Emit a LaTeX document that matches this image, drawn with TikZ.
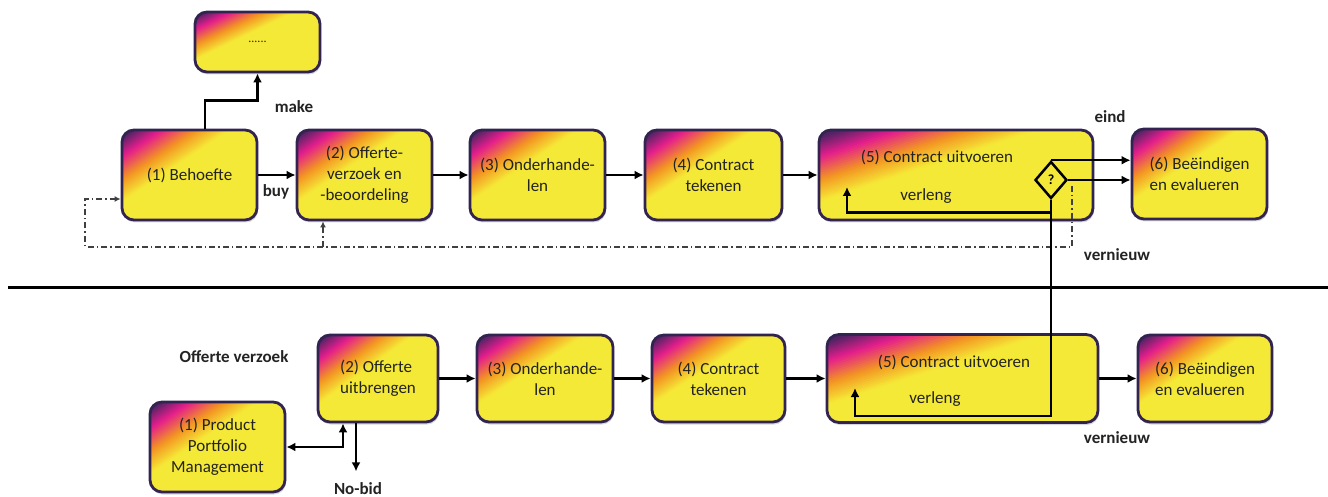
\documentclass[tikz,border=0pt]{standalone}
\usepackage{fontspec}
\setmainfont{Carlito}
\usepackage{tikz}
\usetikzlibrary{arrows.meta,shapes.geometric,shadows}

\definecolor{stappaars}{RGB}{80,35,100}
\definecolor{stapmagenta}{RGB}{228,30,140}
\definecolor{staporanje}{RGB}{243,150,35}
\definecolor{stapgeel}{RGB}{245,233,55}
\definecolor{staprand}{RGB}{50,36,80}
\definecolor{tekst}{RGB}{35,35,35}

% diagonal colour fill, corner to corner of the box, in bands
\newcommand\stapband[2]{%
  \fill[#2, sharp corners]
    ([xshift={(2*#1+2)*\stapw}, yshift={2*\staph}]vnw) --
    ([xshift={6*\stapw}, yshift={2*\staph}]vnw) --
    ([xshift={6*\stapw}, yshift={-6*\staph}]vnw) --
    ([xshift={-2*\stapw}, yshift={-6*\staph}]vnw) --
    ([xshift={-2*\stapw}, yshift={-(2*#1+2)*\staph}]vnw) -- cycle;}
\newcommand\stapvulling{%
  \pgfpointdiff{\pgfpointanchor{path picture bounding box}{south west}}{\pgfpointanchor{path picture bounding box}{north east}}%
  \pgfgetlastxy{\stapw}{\staph}%
  \coordinate (vnw) at (path picture bounding box.north west);
  \fill[stappaars, sharp corners] (path picture bounding box.south west) rectangle (path picture bounding box.north east);
  \foreach \fa/\fb/\ca/\cb in {0.04/0.15/stappaars/stapmagenta, 0.15/0.28/stapmagenta/staporanje, 0.28/0.40/staporanje/stapgeel}
    \foreach \k in {1,...,10} {
      \pgfmathsetmacro\f{\fa+(\fb-\fa)*(\k-1)/10}
      \pgfmathtruncatemacro\p{105-10*\k}
      \stapband{\f}{\ca!\p!\cb}
    }
  \stapband{0.40}{stapgeel}}

\tikzset{
  proc/.style={rectangle, rounded corners=12pt, draw=staprand, line width=2.8pt,
    fill=stapgeel, path picture={\stapvulling},
    drop shadow={shadow xshift=1pt, shadow yshift=-2.5pt, opacity=.3},
    text=tekst, font=\fontsize{17}{21}\selectfont, align=center, inner sep=2pt,
    minimum width=135pt, minimum height=90pt},
  txt/.style={text=tekst, font=\fontsize{17}{21}\selectfont},
  lbl/.style={text=tekst, font=\bfseries\fontsize{17}{21}\selectfont},
  flow/.style={line width=2.5pt, ->},
  terug/.style={line width=1.6pt, draw=black!75, dash pattern=on 6pt off 3pt on 1.5pt off 3pt, -{Latex[length=6pt,width=6pt]}}
}

\begin{document}
\begin{tikzpicture}[x=1pt, y=-1pt, >={Latex[length=9pt,width=9pt]}]
\useasboundingbox (0,0) rectangle (1328,497);

\node[proc, minimum width=125pt, minimum height=60pt] (tmeer) at (257.5,42) {\fontsize{12}{14}\selectfont ......};
\node[proc] (t1) at (189.5,175) {(1) Behoefte};
\node[proc] (t2) at (364.5,175) {(2) Offerte-\\verzoek en\\-beoordeling};
\node[proc] (t3) at (537.5,175) {(3) Onderhande-\\len};
\node[proc, minimum width=137pt] (t4) at (713.5,175) {(4) Contract\\tekenen};
\node[proc, minimum width=274pt] (t5) at (956,175) {};
\node[proc, align=left] (t6) at (1199.5,174) {(6) Beëindigen\\en evalueren};
\node[txt] (t5tekst) at (937,157) {(5) Contract uitvoeren};

\node[diamond, draw, line width=2.5pt, fill=stapgeel, minimum width=32pt, minimum height=37pt, inner sep=0pt,
  font=\bfseries\fontsize{14}{14}\selectfont] (keuze) at (1051,180) {?};

\draw[flow] ([xshift=15.5pt]t1.north) -- ++(0,-28) -| (tmeer.south);
\path[flow]
(t1) edge (t2)
(t2) edge (t3)
(t3) edge (t4)
(t4) edge (t5)
;
\draw[flow] (keuze.north) -- (keuze.north -| t6.west);
\draw[flow] (keuze.east) -- (keuze.east -| t6.west);
\coordinate (tverl) at (847,187);
\draw[flow] (keuze.south) -- ++(0,13) -| (tverl);

\coordinate (vn) at (1072,186);
\coordinate (hk) at (85,247);
\coordinate (t2in) at ([xshift=-41.5pt]t2.south);
\draw[terug] (vn) |- (hk) |- ([yshift=-24pt]t1.west);
\draw[terug] (t2in |- hk) -- (t2in);

\node[lbl] (make) at (294,107) {make};
\node[lbl] (buy) at (276,192) {buy};
\node[lbl] (eind) at (1110,117) {eind};
\node[txt] (tverltxt) at (926,196) {verleng};
\node[lbl] (tvernieuw) at (1117,255) {vernieuw};

\draw[line width=3pt] (8,287) -- (1328,287);

\node[proc, minimum width=120pt, minimum height=87pt, align=left] (b2) at (378,378.5) {(2) Offerte\\uitbrengen};
\node[proc, minimum width=136pt, minimum height=87pt] (b3) at (545,378.5) {(3) Onderhande-\\len};
\node[proc, minimum width=133pt, minimum height=87pt] (b4) at (718.5,378.5) {(4) Contract\\tekenen};
\node[proc, minimum width=271pt, minimum height=88pt] (b5) at (962.5,378.5) {};
\node[proc, minimum width=134pt, minimum height=87pt, align=left] (b6) at (1205,378.5) {(6) Beëindigen\\en evalueren};
\node[proc] (b1) at (217.5,447) {(1) Product\\Portfolio\\Management};
\node[txt] (b5tekst) at (954,362) {(5) Contract uitvoeren};

\path[flow]
(b2) edge (b3)
(b3) edge (b4)
(b4) edge (b5)
(b5) edge (b6)
;
\coordinate (bverl) at (855,388);
\draw[flow] (keuze.south) -- ++(0,216) -| (bverl);

\coordinate (b2in) at ([xshift=-35pt]b2.south);
\coordinate (nobid) at ([xshift=-22pt]b2.south);
\draw[flow, <->] (b1.east) -| (b2in);
\draw[flow] (nobid) -- ++(0,48);

\node[lbl] (offvz) at (234,357) {Offerte verzoek};
\node[txt] (bverltxt) at (935,399) {verleng};
\node[lbl] (bvernieuw) at (1117,438) {vernieuw};
\node[lbl] (nobidtxt) at (358,489) {No-bid};
\end{tikzpicture}
\end{document}
